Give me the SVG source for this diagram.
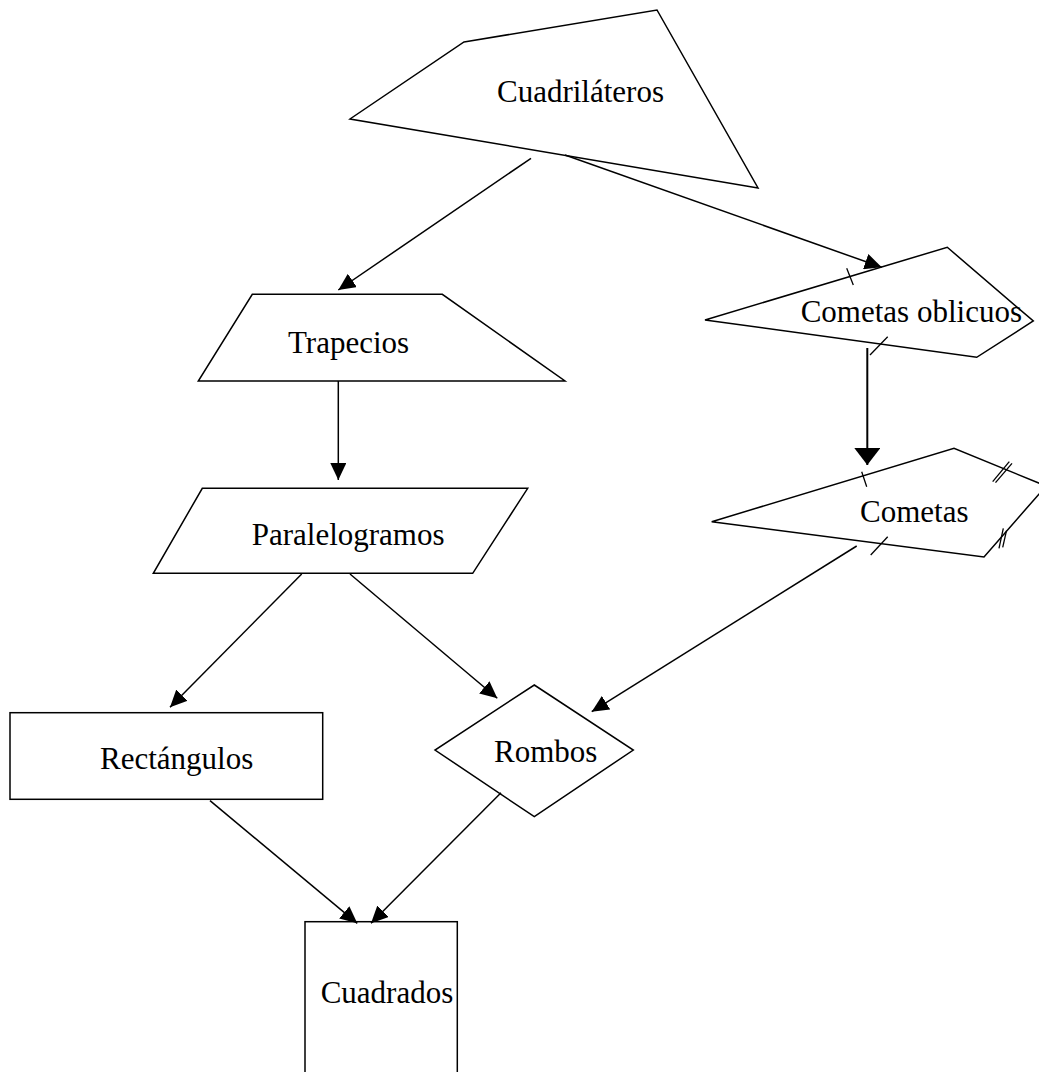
<svg xmlns="http://www.w3.org/2000/svg" width="1039" height="1072" viewBox="0 0 1039 1072">
<style>
.shape{fill:#fff;stroke:#000;stroke-width:1.5;stroke-linejoin:miter}
.lbl{font-family:"Liberation Serif","Times New Roman",serif;font-size:31px;fill:#000}
.conn{fill:none;stroke:#000;stroke-width:1.5}
.tick{fill:none;stroke:#000;stroke-width:1.3}
</style>
<defs>
<marker id="ah" markerUnits="userSpaceOnUse" viewBox="0 0 17 16" refX="17" refY="8" markerWidth="17" markerHeight="16" orient="auto">
<path d="M0,0 L17,8 L0,16 z" fill="#000"/>
</marker>
<marker id="ahw" markerUnits="userSpaceOnUse" viewBox="0 0 17 26" refX="17" refY="13" markerWidth="17" markerHeight="26" orient="auto">
<path d="M0,0 L17,13 L0,26 z" fill="#000"/>
</marker>
</defs>
<rect width="1039" height="1072" fill="#fff"/>

<g id="node-cuadrilateros">
<polygon class="shape" points="464,42 657,10 758,188 350,119"/>
<text class="lbl" x="497" y="102">Cuadriláteros</text>
</g>

<g id="node-trapecios">
<polygon class="shape" points="252.3,294.3 442.3,294.3 565,381 198.3,381"/>
<text class="lbl" x="288" y="352.7">Trapecios</text>
</g>

<g id="node-paralelogramos">
<polygon class="shape" points="202.3,488.3 527.7,488.3 472.7,573.3 153.3,573.3"/>
<text class="lbl" x="251.7" y="545">Paralelogramos</text>
</g>

<g id="node-cometas-oblicuos">
<polygon class="shape" points="705,320 947.3,247.3 1033.3,321 976.7,357.3"/>
<text class="lbl" x="800.7" y="321.7">Cometas oblicuos</text>
<line class="tick" x1="846.7" y1="268.3" x2="853.3" y2="285"/>
<line class="tick" x1="870" y1="355" x2="887.7" y2="336.7"/>
</g>

<g id="node-cometas">
<polygon class="shape" points="711.7,521.7 954,448.3 1046,486 984,557"/>
<text class="lbl" x="860" y="521.7">Cometas</text>
<line class="tick" x1="861.7" y1="471.7" x2="866.7" y2="486.7"/>
<line class="tick" x1="870.7" y1="555" x2="887.7" y2="536.7"/>
<line class="tick" x1="992.7" y1="481.7" x2="1009.3" y2="461.7"/>
<line class="tick" x1="995.5" y1="482.7" x2="1012" y2="463.3"/>
<line class="tick" x1="999" y1="548.3" x2="1003.3" y2="528.3"/>
<line class="tick" x1="1002.7" y1="547.3" x2="1006.5" y2="530.7"/>
</g>

<g id="node-rectangulos">
<rect class="shape" x="10" y="712.7" width="312.7" height="86.6"/>
<text class="lbl" x="100" y="769.3">Rectángulos</text>
</g>

<g id="node-rombos">
<polygon class="shape" points="534.3,685 633.3,750 534.3,816.7 435,750"/>
<text class="lbl" x="494" y="761.7">Rombos</text>
</g>

<g id="node-cuadrados">
<rect class="shape" x="305" y="921.7" width="152.3" height="170"/>
<text class="lbl" x="320.7" y="1003.3">Cuadrados</text>
</g>

<g id="connectors">
<line class="conn" x1="531" y1="158.3" x2="338.3" y2="290" marker-end="url(#ah)"/>
<line class="conn" x1="565" y1="155" x2="881.7" y2="267.3" marker-end="url(#ah)"/>
<line class="conn" x1="338.3" y1="381" x2="338.3" y2="480" marker-end="url(#ah)"/>
<line class="conn" style="stroke-width:2" x1="867.3" y1="348" x2="867.3" y2="465" marker-end="url(#ahw)"/>
<line class="conn" x1="301.7" y1="574" x2="170" y2="707.3" marker-end="url(#ah)"/>
<line class="conn" x1="350" y1="574" x2="497.3" y2="698.3" marker-end="url(#ah)"/>
<line class="conn" x1="856.7" y1="546" x2="591.7" y2="711.7" marker-end="url(#ah)"/>
<line class="conn" x1="210" y1="800.7" x2="357.3" y2="923.3" marker-end="url(#ah)"/>
<line class="conn" x1="501" y1="792.7" x2="371" y2="923.3" marker-end="url(#ah)"/>
</g>
</svg>
